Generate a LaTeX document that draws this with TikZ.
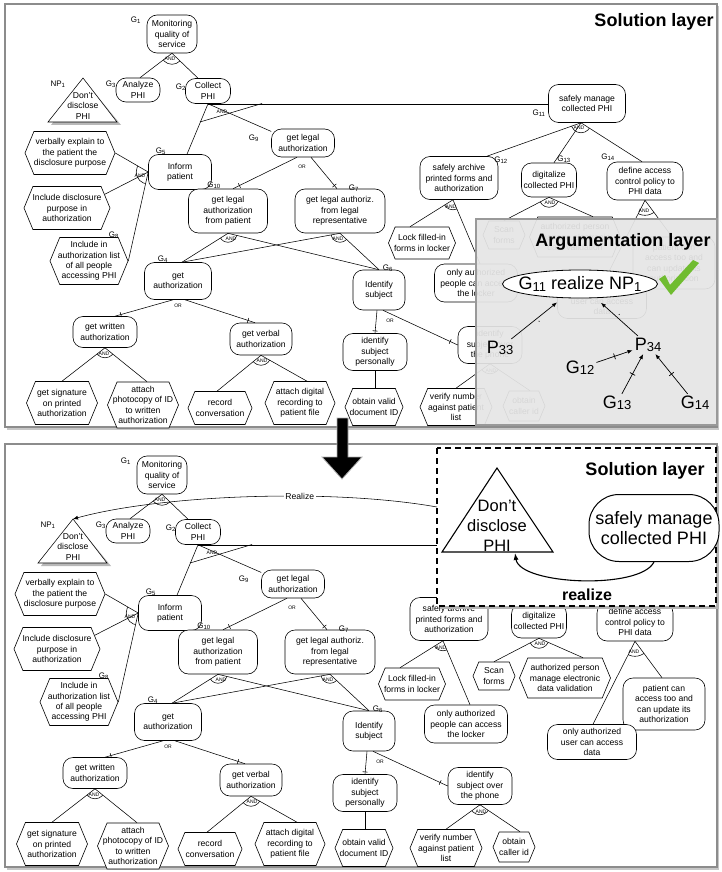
\documentclass[tikz,border=0pt]{standalone}
\usepackage{fontspec}
\setmainfont{Liberation Sans}
\usetikzlibrary{shapes.symbols,shapes.geometric,arrows.meta,decorations.markings}

\newcommand\nodefont{\fontsize{8.6}{10.3}\selectfont}
\newcommand\labfont{\fontsize{8}{9}\selectfont}
\newcommand\markfont{\fontsize{5}{5}\selectfont}
\newcommand\bigfont{\fontsize{18}{20}\selectfont}
\newcommand\argsub[1]{{\fontsize{13}{13}\selectfont\raisebox{-1.2pt}{#1}}}
\newif\ifsollabels

\definecolor{checkgreen}{RGB}{112,188,48}
\definecolor{argfill}{RGB}{230,230,230}

\tikzset{
  base/.style={font=\nodefont, align=center, inner sep=1pt, line width=0.6pt, fill=white},
  goal/.style={base, draw, rounded corners=10pt},
  hexa/.style={base, draw, signal, signal to=west and east, signal pointer angle=135, inner xsep=-5pt},
  glabel/.style={font=\labfont, inner sep=0.5pt},
  marktext/.style={font=\markfont, inner sep=0.3pt},
  conn/.style={line width=0.55pt},
  ortick/.style={postaction={decorate}, decoration={markings, mark=at position 0.9 with {\draw[line width=0.55pt, arrows=-] (0pt,-2.5pt) -- (0pt,2.5pt);}}},
  midtick/.style={postaction={decorate}, decoration={markings, mark=at position 0.5 with {\draw[line width=0.7pt, arrows=-] (0pt,-3pt) -- (0pt,3pt);}}},
  argarrow/.style={line width=0.7pt, -{Latex[length=5pt,width=4pt]}, midtick},
  argtext/.style={font=\bigfont, inner sep=2pt},
  panel/.style={draw=black!45, line width=1.6pt, fill=white},
}

% arc across the links of an AND-decomposition: apex, outer ends, radius
\newcommand\andarc[4]{%
  \begin{scope}
    \clip (#1) -- (#2) -- (#3) -- cycle;
    \draw[conn] (#1) circle[radius=#4];
  \end{scope}}

% goal model; #1 is the prefix of all node names
\newcommand\goalmodel[1]{%
  % top goals
  \node[goal, minimum width=50, minimum height=38] (#1g1) at (172,34) {Monitoring\\quality of\\service};
  \node[goal, minimum width=44, minimum height=24] (#1g3) at (138,90) {Analyze\\PHI};
  \node[goal, minimum width=45, minimum height=25] (#1g2) at (208,91) {Collect\\PHI};
  % norm
  \coordinate (#1npa) at (83,78);
  \coordinate (#1npb) at (48,122);
  \coordinate (#1npc) at (117,122);
  \fill[black!28] (85,81) -- (51,125) -- (121,125) -- cycle;
  \draw[conn, fill=white] (#1npa) -- (#1npb) -- (#1npc) -- cycle;
  \node[base, fill=none] (#1np) at (83,106) {Don't\\disclose\\PHI};
  % informing the patient
  \node[goal, minimum width=63, minimum height=35] (#1g5) at (180,172) {Inform\\patient};
  \node[hexa, minimum width=90, minimum height=43] (#1hx1) at (70,153) {verbally explain to\\the patient the\\disclosure purpose};
  \node[hexa, minimum width=86, minimum height=43] (#1hx2) at (67,208) {Include disclosure\\purpose in\\authorization};
  \node[hexa, minimum width=78, minimum height=47] (#1g8) at (89,261) {Include in\\authorization list\\of all people\\accessing PHI};
  % legal authorization
  \node[goal, minimum width=63, minimum height=28] (#1g9) at (303,143) {get legal\\authorization};
  \node[goal, minimum width=79, minimum height=44] (#1g10) at (228,211) {get legal\\authorization\\from patient};
  \node[goal, minimum width=90, minimum height=44] (#1g7) at (340,211) {get legal authoriz.\\from legal\\representative};
  \node[goal, minimum width=67, minimum height=37] (#1g4) at (178,281) {get\\authorization};
  \node[goal, minimum width=52, minimum height=40] (#1g6) at (379,290) {Identify\\subject};
  \node[goal, minimum width=64, minimum height=31] (#1gw) at (105,332) {get written\\authorization};
  \node[goal, minimum width=62, minimum height=32] (#1gv) at (261,339) {get verbal\\authorization};
  \node[hexa, minimum width=71, minimum height=43] (#1hs) at (62,403) {get signature\\on printed\\authorization};
  \node[hexa, minimum width=71, minimum height=46] (#1hp) at (143,405) {attach\\photocopy of ID\\to written\\authorization};
  \node[hexa, minimum width=64, minimum height=33] (#1hr) at (220,408) {record\\conversation};
  \node[hexa, minimum width=70, minimum height=43] (#1hd) at (300,403) {attach digital\\recording to\\patient file};
  \node[goal, minimum width=64, minimum height=37] (#1gp) at (375,352) {identify\\subject\\personally};
  \node[hexa, minimum width=58, minimum height=37] (#1ho) at (374,407) {obtain valid\\document ID};
  \node[goal, minimum width=64, minimum height=37] (#1gph) at (490,345) {identify\\subject over\\the phone};
  \node[hexa, minimum width=72, minimum height=37] (#1hv) at (456,407) {verify number\\against patient\\list};
  \node[hexa, minimum width=42, minimum height=30] (#1hc) at (524,406) {obtain\\caller id};
  % managing the collected data
  \node[goal, minimum width=77, minimum height=38] (#1g11) at (587,103.5) {safely manage\\collected PHI};
  \node[goal, minimum width=78, minimum height=43] (#1g12) at (459,178) {safely archive\\printed forms and\\authorization};
  \node[goal, minimum width=55, minimum height=34] (#1g13) at (549,180) {digitalize\\collected PHI};
  \node[goal, minimum width=76, minimum height=38] (#1g14) at (645,181) {define access\\control policy to\\PHI data};
  \node[hexa, minimum width=67, minimum height=32] (#1hl) at (422,243) {Lock filled-in\\forms in locker};
  \node[goal, minimum width=83, minimum height=38] (#1gl) at (476,283) {only authorized\\people can access\\the locker};
  \node[hexa, minimum width=42, minimum height=28] (#1hsf) at (504,235) {Scan\\forms};
  \node[hexa, minimum width=91, minimum height=40] (#1ha) at (575,237) {authorized person\\manage electronic\\data validation};
  \node[goal, minimum width=82, minimum height=52] (#1gpa) at (674,263) {patient can\\access too and\\can update its\\authorization};
  \node[goal, minimum width=89, minimum height=35] (#1gu) at (602,301) {only authorized\\user can access\\data};
  % identifiers
  \node[glabel] (#1lg1) at (136,20) {G\textsubscript{1}};
  \node[glabel] (#1lg3) at (111,84) {G\textsubscript{3}};
  \node[glabel] (#1lg2) at (181,87) {G\textsubscript{2}};
  \node[glabel] (#1lnp) at (58,84) {NP\textsubscript{1}};
  \node[glabel] (#1lg5) at (161,151) {G\textsubscript{5}};
  \node[glabel] (#1lg8) at (114,235) {G\textsubscript{8}};
  \node[glabel] (#1lg9) at (254,138) {G\textsubscript{9}};
  \node[glabel] (#1lg10) at (214,185) {G\textsubscript{10}};
  \node[glabel] (#1lg7) at (354,188) {G\textsubscript{7}};
  \node[glabel] (#1lg6) at (388,268) {G\textsubscript{6}};
  \node[glabel] (#1lg4) at (163,259) {G\textsubscript{4}};
  \ifsollabels
    \node[glabel] (#1lg11) at (539,113) {G\textsubscript{11}};
    \node[glabel] (#1lg12) at (501,160) {G\textsubscript{12}};
    \node[glabel] (#1lg13) at (564,159) {G\textsubscript{13}};
    \node[glabel] (#1lg14) at (608,157) {G\textsubscript{14}};
  \fi
  % G1
  \draw[conn] (#1g1.south) -- ([xshift=2pt]#1g3.north);
  \draw[conn] (#1g1.south) -- ([xshift=-10pt]#1g2.north);
  \andarc{#1g1.south}{[xshift=2pt]#1g3.north}{[xshift=-10pt]#1g2.north}{11}
  \node[marktext] (#1a1) at (170,59) {AND};
  % G2
  \draw[conn] (#1g2.south) -- ([xshift=7pt]#1g5.north);
  \draw[conn] (#1g2.south) -- (#1g9.160);
  \coordinate (#1k2) at (200,122);
  \coordinate (#1j2) at (262,103.5);
  \draw[conn] (#1k2) -- (#1j2);
  \draw[conn] (#1g2.south) -- (#1g2.south -| #1g11.west);
  \node[marktext] (#1a2) at (222,112) {AND};
  % G5
  \draw[conn] (#1g5.west) -- (#1hx1.east);
  \draw[conn] (#1g5.west) -- (#1hx2.20);
  \draw[conn] (#1g5.west) -- (#1g8.east);
  \andarc{#1g5.west}{#1hx1.east}{#1g8.east}{12}
  \node[marktext] (#1a5) at (140,176) {AND};
  % G9
  \draw[conn, ortick] ([xshift=-6pt]#1g9.south) -- ([xshift=5pt]#1g10.north);
  \draw[conn, ortick] ([xshift=8pt]#1g9.south) -- ([xshift=-3pt]#1g7.north);
  \node[marktext] (#1o9) at (302,167) {OR};
  % G10 and G7
  \draw[conn] (#1g10.south) -- ([xshift=4pt]#1g4.north);
  \draw[conn] (#1g10.south) -- (#1g6.north);
  \andarc{#1g10.south}{[xshift=4pt]#1g4.north}{#1g6.north}{9}
  \node[marktext] (#1a10) at (231,239) {AND};
  \draw[conn] (#1g7.south) -- ([xshift=4pt]#1g4.north);
  \draw[conn] (#1g7.south) -- (#1g6.north);
  \andarc{#1g7.south}{[xshift=4pt]#1g4.north}{#1g6.north}{9}
  \node[marktext] (#1a7) at (338,239) {AND};
  % G4
  \draw[conn, ortick] ([xshift=-5pt]#1g4.south) -- ([xshift=10pt]#1gw.north);
  \draw[conn, ortick] ([xshift=7pt]#1g4.south) -- ([xshift=-6pt]#1gv.north);
  \node[marktext] (#1o4) at (178,306) {OR};
  \draw[conn] (#1gw.south) -- (#1hs.north);
  \draw[conn] (#1gw.south) -- ([xshift=4pt]#1hp.north);
  \andarc{#1gw.south}{#1hs.north}{[xshift=4pt]#1hp.north}{10}
  \node[marktext] (#1aw) at (104,354) {AND};
  \draw[conn] (#1gv.south) -- ([xshift=-3pt]#1hr.north);
  \draw[conn] (#1gv.south) -- ([xshift=7pt]#1hd.north);
  \andarc{#1gv.south}{[xshift=-3pt]#1hr.north}{[xshift=7pt]#1hd.north}{10}
  \node[marktext] (#1av) at (262,361) {AND};
  % G6
  \draw[conn, ortick] ([xshift=-2pt]#1g6.south) -- (#1gp.north);
  \draw[conn, ortick] ([xshift=4pt]#1g6.south) -- (#1gph.west);
  \node[marktext] (#1o6) at (390,321) {OR};
  \draw[conn] (#1gp.south) -- (#1gp.south |- #1ho.north);
  \draw[conn] (#1gph.south) -- (#1hv.north);
  \draw[conn] (#1gph.south) -- ([xshift=6pt]#1hc.north);
  \andarc{#1gph.south}{#1hv.north}{[xshift=6pt]#1hc.north}{10}
  \node[marktext] (#1aph) at (491,371) {AND};
  % G11 and below
  \draw[conn] ([xshift=-6pt]#1g11.south) -- ([xshift=28pt]#1g12.north);
  \draw[conn] ([xshift=-6pt]#1g11.south) -- ([xshift=5pt]#1g13.north);
  \draw[conn] ([xshift=-6pt]#1g11.south) -- ([xshift=-3pt]#1g14.north);
  \andarc{[xshift=-6pt]#1g11.south}{[xshift=28pt]#1g12.north}{[xshift=-3pt]#1g14.north}{10}
  \node[marktext] (#1a11) at (579,128) {AND};
  \draw[conn] ([xshift=-6pt]#1g12.south) -- ([xshift=-12pt]#1hl.north);
  \draw[conn] ([xshift=-6pt]#1g12.south) -- ([xshift=4pt]#1gl.north);
  \andarc{[xshift=-6pt]#1g12.south}{[xshift=-12pt]#1hl.north}{[xshift=4pt]#1gl.north}{10}
  \node[marktext] (#1a12) at (451,207) {AND};
  \draw[conn] (#1g13.south) -- (#1hsf.north);
  \draw[conn] (#1g13.south) -- ([xshift=18pt]#1ha.north);
  \andarc{#1g13.south}{#1hsf.north}{[xshift=18pt]#1ha.north}{10}
  \node[marktext] (#1a13) at (550,203) {AND};
  \draw[conn] (#1g14.south) -- ([xshift=1pt]#1gu.north);
  \draw[conn] (#1g14.south) -- ([xshift=-2pt]#1gpa.north);
  \andarc{#1g14.south}{[xshift=1pt]#1gu.north}{[xshift=-2pt]#1gpa.north}{15}
  \node[marktext] (#1a14) at (644,211) {AND};
}

\begin{document}
\begin{tikzpicture}[x=1pt,y=-1pt]
\useasboundingbox (0,0) rectangle (721,872);

% ---------- upper panel ----------
\fill[black!22] (7,6) rectangle (719,430);
\draw[panel] (5,4) rectangle (717,427);
\sollabelstrue
\goalmodel{p1}
\node[font=\bigfont\bfseries] (t1) at (654,22) {Solution layer};

% argumentation overlay
\draw[draw=black!40, line width=2.4pt, fill=argfill, fill opacity=0.93] (476,219) rectangle (717,425);
\node[font=\bigfont\bfseries] (t2) at (623,242) {Argumentation layer};
\node[draw, ellipse, fill=white, line width=0.8pt, minimum width=155, minimum height=28, inner sep=0pt] (ag11) at (580,284) {};
\node[font=\bigfont, inner sep=0pt] (ag11t) at (ag11) {G\argsub{11} realize NP\argsub{1}};
\fill[checkgreen] (659,279) -- (665,275) -- (670,285) -- (693,260) -- (699,263) -- (671,295) -- cycle;
\node[argtext] (p33) at (500,348) {P\argsub{33}};
\node[argtext] (p34) at (648,345) {P\argsub{34}};
\node[argtext] (ag12) at (580,368) {G\argsub{12}};
\node[argtext] (ag13) at (617,403) {G\argsub{13}};
\node[argtext] (ag14) at (695,403) {G\argsub{14}};
\draw[argarrow, shorten >=7pt] (p33) -- (ag11);
\draw[argarrow, shorten >=7pt] (p34) -- (ag11);
\draw[argarrow] (ag12) -- (p34);
\draw[argarrow] (ag13) -- (p34);
\draw[argarrow] (ag14) -- (p34);

% ---------- lower panel ----------
\fill[black!22] (7,446) rectangle (719,870);
\draw[panel] (5,444) rectangle (717,867);
\sollabelsfalse
\begin{scope}[shift={(-10,441)}]
  \goalmodel{p2}
\end{scope}

% solution layer overlay
\fill[black!30] (440,451) rectangle (719,609);
\draw[line width=1.3pt, dash pattern=on 6pt off 4pt, fill=white] (437,448) rectangle (716,606);
\node[font=\bigfont\bfseries] (t3) at (645,471) {Solution layer};
\coordinate (sa) at (497,468);
\coordinate (sb) at (442,552);
\coordinate (sc) at (553,552);
\draw[line width=1.1pt] (sa) -- (sb) -- (sc) -- cycle;
\node[font=\fontsize{16.5}{20}\selectfont, align=center, inner sep=0pt] (sdt) at (497,526) {Don't\\disclose\\PHI};
\node[goal, rounded corners=30pt, line width=1pt, font=\fontsize{18}{20}\selectfont, minimum width=130, minimum height=67] (ssm) at (654,528) {safely manage\\collected PHI};
\coordinate (stb) at (515,553);
\draw[line width=1.1pt, -{Latex[length=7pt,width=5pt]}] (ssm.south) .. controls (640,590) and (520,585) .. (stb);
\node[font=\fontsize{16}{18}\selectfont\bfseries] (rl) at (587,595) {realize};

% realize link to the norm
\coordinate (solL) at (437,507);
\draw[conn, -{Latex[length=5pt,width=4pt]}] (solL) .. controls (330,488) and (160,495) .. (p2npa)
  node[pos=0.37, fill=white, font=\nodefont, inner sep=1.5pt] (rz) {Realize};

% transition arrow between the panels
\draw[fill=black, draw=black!30, line width=0.8pt] (337,418) -- (348,418) -- (348,457) -- (362,457) -- (342,479) -- (322,457) -- (337,457) -- cycle;
\end{tikzpicture}
\end{document}
